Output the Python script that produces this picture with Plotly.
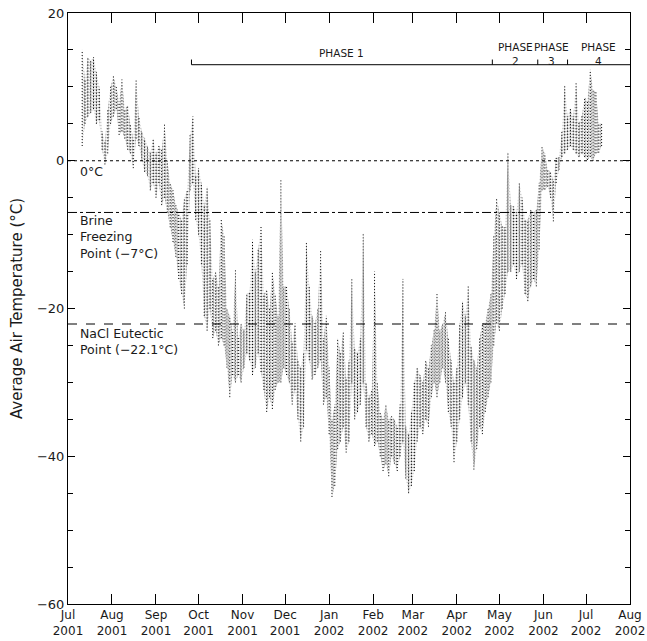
import plotly.graph_objects as go
import datetime as dt

# ---- data (date, daily low, daily high in °C) ----
dates = [
    "2001-07-11","2001-07-13","2001-07-15","2001-07-17","2001-07-19","2001-07-21","2001-07-23","2001-07-25",
    "2001-07-27","2001-07-29","2001-07-31","2001-08-02","2001-08-04","2001-08-06","2001-08-08","2001-08-10",
    "2001-08-12","2001-08-14","2001-08-16","2001-08-18","2001-08-20","2001-08-22","2001-08-24","2001-08-26",
    "2001-08-28","2001-08-30","2001-09-01","2001-09-03","2001-09-05","2001-09-07","2001-09-09","2001-09-11",
    "2001-09-13","2001-09-15","2001-09-17","2001-09-19","2001-09-21","2001-09-23","2001-09-25","2001-09-27",
    "2001-09-29","2001-10-01","2001-10-03","2001-10-05","2001-10-07","2001-10-09","2001-10-11","2001-10-13",
    "2001-10-15","2001-10-17","2001-10-19","2001-10-21","2001-10-23","2001-10-25","2001-10-27","2001-10-29",
    "2001-10-31","2001-11-02","2001-11-04","2001-11-06","2001-11-08","2001-11-10","2001-11-12","2001-11-14",
    "2001-11-16","2001-11-18","2001-11-20","2001-11-22","2001-11-24","2001-11-26","2001-11-28","2001-11-30",
    "2001-12-02","2001-12-04","2001-12-06","2001-12-08","2001-12-10","2001-12-12","2001-12-14","2001-12-16",
    "2001-12-18","2001-12-20","2001-12-22","2001-12-24","2001-12-26","2001-12-28","2001-12-30","2002-01-01",
    "2002-01-03","2002-01-05","2002-01-07","2002-01-09","2002-01-11","2002-01-13","2002-01-15","2002-01-17",
    "2002-01-19","2002-01-21","2002-01-23","2002-01-25","2002-01-27","2002-01-29","2002-01-31","2002-02-02",
    "2002-02-04","2002-02-06","2002-02-08","2002-02-10","2002-02-12","2002-02-14","2002-02-16","2002-02-18",
    "2002-02-20","2002-02-22","2002-02-24","2002-02-26","2002-02-28","2002-03-02","2002-03-04","2002-03-06",
    "2002-03-08","2002-03-10","2002-03-12","2002-03-14","2002-03-16","2002-03-18","2002-03-20","2002-03-22",
    "2002-03-24","2002-03-26","2002-03-28","2002-03-30","2002-04-01","2002-04-03","2002-04-05","2002-04-07",
    "2002-04-09","2002-04-11","2002-04-13","2002-04-15","2002-04-17","2002-04-19","2002-04-21","2002-04-23",
    "2002-04-25","2002-04-27","2002-04-29","2002-05-01","2002-05-03","2002-05-05","2002-05-07","2002-05-09",
    "2002-05-11","2002-05-13","2002-05-15","2002-05-17","2002-05-19","2002-05-21","2002-05-23","2002-05-25",
    "2002-05-27","2002-05-29","2002-05-31","2002-06-02","2002-06-04","2002-06-06","2002-06-08","2002-06-10",
    "2002-06-12","2002-06-14","2002-06-16","2002-06-18","2002-06-20","2002-06-22","2002-06-24","2002-06-26",
    "2002-06-28","2002-06-30","2002-07-02","2002-07-04","2002-07-06","2002-07-08","2002-07-10","2002-07-12",
]
t_low = [
    2, 5, 6, 6.5, 7, 5, 5.5, 1.5,
    -0.5, 1, 5, 6, 7, 3.5, 4, 3,
    1.5, 1, -1, 3, 2, 0, -1.5, -2,
    -4, -3, -5, -3, -6, -5, -7, -9,
    -11, -13, -16, -18, -20, -14, -4, -3,
    -8, -10, -14, -21, -23, -20, -24, -23,
    -25, -24, -25, -28, -32, -29, -30, -29,
    -30, -28, -26, -27, -29, -28, -26, -28.6,
    -31, -34, -32, -33.6, -31, -30, -30, -28,
    -29, -30, -33, -31, -35, -38, -36, -25.5,
    -27, -29.6, -29, -28, -27, -33, -32, -37,
    -45.5, -44, -39, -38, -36, -39.5, -38, -30,
    -35, -34, -33, -30, -36, -38, -37, -38.6,
    -38, -40, -42, -41, -42.7, -40, -41, -42,
    -40, -38, -43, -45, -44, -42, -38, -36,
    -37, -35, -36, -32, -30, -32, -30, -28,
    -30, -34, -36, -40.8, -38, -35, -32, -30,
    -33, -38, -41.8, -39, -36, -37, -34, -32,
    -30, -25, -22, -23, -20, -18, -15, -15,
    -14, -16, -15, -14, -18, -19, -17, -16,
    -17, -12, -4, -3.9, -3.5, -5, -8.2, -3,
    -1.2, 0.5, 1, 1.5, 2, 1.5, 1, 0.5,
    1, 0.5, 0.1, 0.5, 0, 1, 1.1, 2,
]
t_high = [
    15, 11, 14, 13.5, 14, 12, 10, 4,
    2.5, 7, 10, 11.5, 10, 8, 11, 7,
    7.5, 5, 3, 11, 6, 4, 3, 2,
    1, 3, 1, 2, 1.5, 5, 0, -3,
    -4, -6, -7, -8, -5, -4, 3.5, 6,
    -2, -1, -3, -6, -3.5, -8, -16, -15,
    -17, -8, -10, -20, -21, -23, -14.7, -24,
    -22, -23, -18, -17.8, -10.7, -15, -12, -8.9,
    -18, -17.4, -20, -15, -18, -21, -2.6, -17,
    -17, -20, -24.6, -22, -27, -28, -26, -11,
    -17, -21, -22, -20, -12, -24, -21, -28,
    -35, -33, -24, -26, -23, -29.6, -27, -16,
    -25.5, -26, -24, -9.7, -30, -32, -31, -15,
    -30, -34, -35, -33, -35, -34.6, -35, -36,
    -33, -16, -36, -37, -34, -30, -28, -29,
    -30, -27, -28, -25, -22.8, -18, -23, -22,
    -20.5, -24, -27, -30, -28, -22, -19, -21,
    -17, -25, -27, -28, -24, -22, -21.9, -20,
    -18, -10, -5, -7, -8.9, -9, 1.2, -6,
    -6.2, -7, -3, -5, -8, -8, -6.6, -7,
    -6.6, -3, 1.9, 1, -1.2, -1.5, -2.6, 0.5,
    0.5, 4, 10.3, 6, 7, 6, 10.5, 5.1,
    6, 8.6, 8.2, 12.3, 9.6, 9.3, 5.1, 5,
]

tick_dates = ["2001-07-01","2001-08-01","2001-09-01","2001-10-01","2001-11-01","2001-12-01","2002-01-01",
              "2002-02-01","2002-03-01","2002-04-01","2002-05-01","2002-06-01","2002-07-01","2002-08-01"]
tick_labels = ["Jul<br>2001","Aug<br>2001","Sep<br>2001","Oct<br>2001","Nov<br>2001","Dec<br>2001","Jan<br>2002",
               "Feb<br>2002","Mar<br>2002","Apr<br>2002","May<br>2002","Jun<br>2002","Jul<br>2002","Aug<br>2002"]

ref_levels = [0, -7, -22.1]
phase_bounds = ["2001-09-26", "2002-04-26", "2002-05-28", "2002-06-18", "2002-08-01"]
phase_names = ["1", "2", "3", "4"]
phase_y = 13.0

FONT = "DejaVu Sans"
INK = "#1a1a1a"

fig = go.Figure()

# stippled envelope between daily low and high
fig.add_trace(go.Scatter(x=dates, y=t_low, mode="lines", line=dict(width=0, color="rgba(0,0,0,0)"),
                         hoverinfo="skip", showlegend=False))
fig.add_trace(go.Scatter(x=dates, y=t_high, mode="lines", line=dict(width=0, color="rgba(0,0,0,0)"),
                         fill="tonexty", fillcolor="rgba(0,0,0,0)",
                         fillpattern=dict(shape=".", size=3, solidity=0.38, fgcolor="#2a2a2a",
                                          bgcolor="rgba(0,0,0,0)", fillmode="overlay"),
                         hoverinfo="skip", showlegend=False))

# vertical dotted streaks for each sample
xs, ys = [], []
for d, lo, hi in zip(dates, t_low, t_high):
    xs += [d, d, None]
    ys += [lo, hi, None]
fig.add_trace(go.Scatter(x=xs, y=ys, mode="lines",
                         line=dict(color="black", width=1, dash="1px,2px"),
                         hoverinfo="skip", showlegend=False))

# reference lines
dashes = ["dot", "dashdot", "dash"]
for lvl, ds in zip(ref_levels, dashes):
    fig.add_shape(type="line", xref="paper", x0=0, x1=1, yref="y", y0=lvl, y1=lvl,
                  line=dict(color="black", width=1, dash=ds))

# phase bar
fig.add_shape(type="line", xref="x", yref="y", x0=phase_bounds[0], x1=phase_bounds[-1],
              y0=phase_y, y1=phase_y, line=dict(color="black", width=1))
for b in phase_bounds[:-1]:
    fig.add_shape(type="line", xref="x", yref="y", x0=b, x1=b, y0=phase_y, y1=phase_y + 0.7,
                  line=dict(color="black", width=1))

def mid(a, b):
    da = dt.date.fromisoformat(a); db = dt.date.fromisoformat(b)
    return (da + (db - da) / 2).isoformat()

for i, name in enumerate(phase_names):
    m = mid(phase_bounds[i], phase_bounds[i + 1])
    if i == 0:
        fig.add_annotation(x=m, y=14.6, text="PHASE " + name, showarrow=False,
                           font=dict(family=FONT, size=10.5, color=INK), xanchor="center", yanchor="middle")
    else:
        fig.add_annotation(x=m, y=14.5, text="PHASE<br>" + name, showarrow=False,
                           font=dict(family=FONT, size=10.5, color=INK), xanchor="center", yanchor="middle",
                           align="center")

# level annotations
fig.add_annotation(xref="paper", x=0.018, y=-1.5, text="0°C", showarrow=False,
                   font=dict(family=FONT, size=12.5, color=INK), xanchor="left", yanchor="middle")
fig.add_annotation(xref="paper", x=0.018, y=-10.3, text="Brine<br>Freezing<br>Point (−7°C)", showarrow=False,
                   font=dict(family=FONT, size=12.5, color=INK), xanchor="left", yanchor="middle", align="left")
fig.add_annotation(xref="paper", x=0.018, y=-24.4, text="NaCl Eutectic<br>Point (−22.1°C)", showarrow=False,
                   font=dict(family=FONT, size=12.5, color=INK), xanchor="left", yanchor="middle", align="left")

fig.update_layout(
    width=647, height=641,
    margin=dict(l=68, r=17, t=13, b=37, autoexpand=False),
    paper_bgcolor="white", plot_bgcolor="white",
    font=dict(family=FONT, size=12, color=INK),
    showlegend=False,
)
fig.update_xaxes(type="date", range=["2001-07-01", "2002-08-01"], automargin=False,
                 tickmode="array", tickvals=tick_dates, ticktext=tick_labels,
                 ticks="inside", ticklen=10, tickcolor="black", showgrid=False, zeroline=False,
                 showline=True, linecolor="black", linewidth=1, mirror="allticks",
                 ticklabeloverflow="allow",
                 tickfont=dict(family=FONT, size=12, color=INK), tickangle=0)
fig.update_yaxes(range=[-60, 20], tickmode="array", tickvals=[-60, -40, -20, 0, 20], automargin=False,
                 ticks="inside", ticklen=7, tickcolor="black", showgrid=False, zeroline=False,
                 minor=dict(dtick=5, tick0=0, ticks="inside", ticklen=5, tickcolor="black", showgrid=False),
                 showline=True, linecolor="black", linewidth=1, mirror="allticks",
                 ticklabeloverflow="allow",
                 title=dict(text="Average Air Temperature (°C)", font=dict(family=FONT, size=15, color=INK), standoff=10),
                 tickfont=dict(family=FONT, size=13, color=INK))

# remove the default page margin so the figure sits at the window's top-left corner
fig.write_html("out.html", config={"displayModeBar": False},
               post_script="document.body.style.margin='0';")
